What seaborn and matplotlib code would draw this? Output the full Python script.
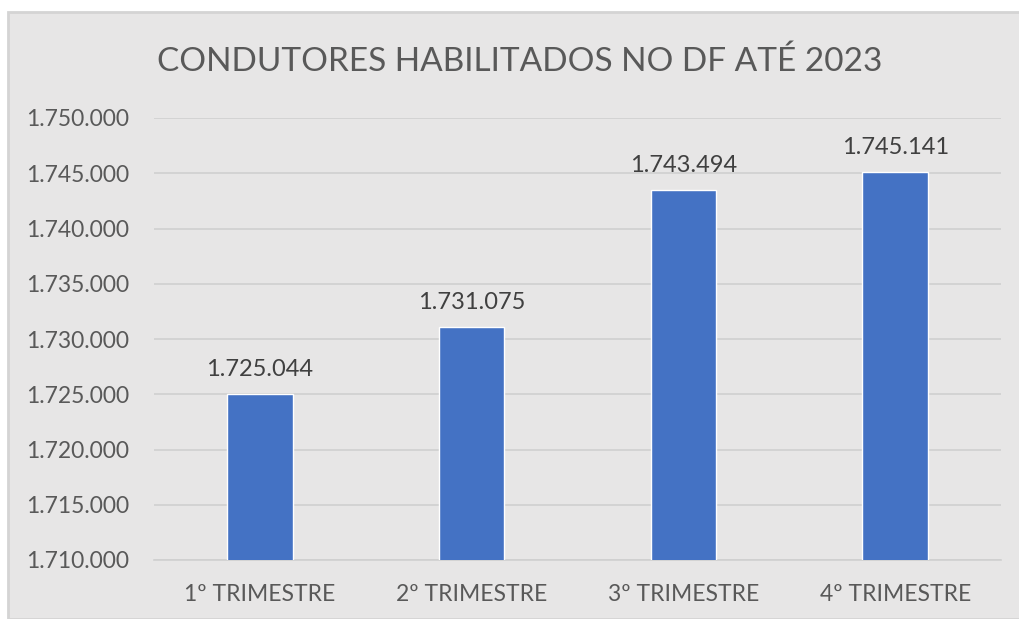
import matplotlib
matplotlib.use("Agg")
import matplotlib.pyplot as plt
import seaborn as sns
import pandas as pd
from matplotlib.patches import Rectangle
from matplotlib.ticker import FuncFormatter

categories = ["1º TRIMESTRE", "2º TRIMESTRE", "3º TRIMESTRE", "4º TRIMESTRE"]
values = [1725044, 1731075, 1743494, 1745141]
title = "CONDUTORES HABILITADOS NO DF ATÉ 2023"

sns.set_theme(style="white")
plt.rcParams['font.family'] = ['Lato', 'DejaVu Sans']

W, H = 1019, 619
fig = plt.figure(figsize=(W / 100, H / 100), dpi=100)
fig.patch.set_facecolor("white")
bg = Rectangle((8 / W, 0), 1 - 8 / W + 0.01, 1 - 12 / H, transform=fig.transFigure,
               facecolor="#E7E6E6", edgecolor="#D4D4D4", linewidth=2, zorder=-5)
fig.patches.append(bg)

ax = fig.add_axes([154 / W, 1 - 560 / H, 847 / W, 442 / H])
ax.set_facecolor("none")
ax.set_zorder(2)

df = pd.DataFrame({"cat": categories, "val": values})
sns.barplot(data=df, x="cat", y="val", color="#4472C4", saturation=1, width=0.31, ax=ax, zorder=3)

ax.set_ylim(1710000, 1750000)
ax.set_yticks(range(1710000, 1750001, 5000))
ax.yaxis.set_major_formatter(FuncFormatter(lambda v, p: f"{int(v):,}".replace(",", ".")))
ax.grid(axis="y", color="#D0D0D0", linewidth=1.2, zorder=0)
ax.set_axisbelow(True)
for s in ["top", "right", "left"]:
    ax.spines[s].set_visible(False)
ax.spines["bottom"].set_color("#D0D0D0")
ax.spines["bottom"].set_linewidth(1.2)
ax.tick_params(axis="both", length=0, colors="#595959", labelsize=16.5)
ax.tick_params(axis="y", pad=18)
ax.tick_params(axis="x", pad=17)
ax.set_xlabel("")
ax.set_ylabel("")

for i, v in enumerate(values):
    ax.annotate(f"{v:,}".replace(",", "."), (i, v), xytext=(0, 10), textcoords="offset points",
                ha="center", va="bottom", fontsize=17, color="#404040")

fig.text(520 / W, 1 - 62 / H, title, ha="center", va="center", fontsize=24, color="#595959")

fig.savefig("out.png", dpi=100)
